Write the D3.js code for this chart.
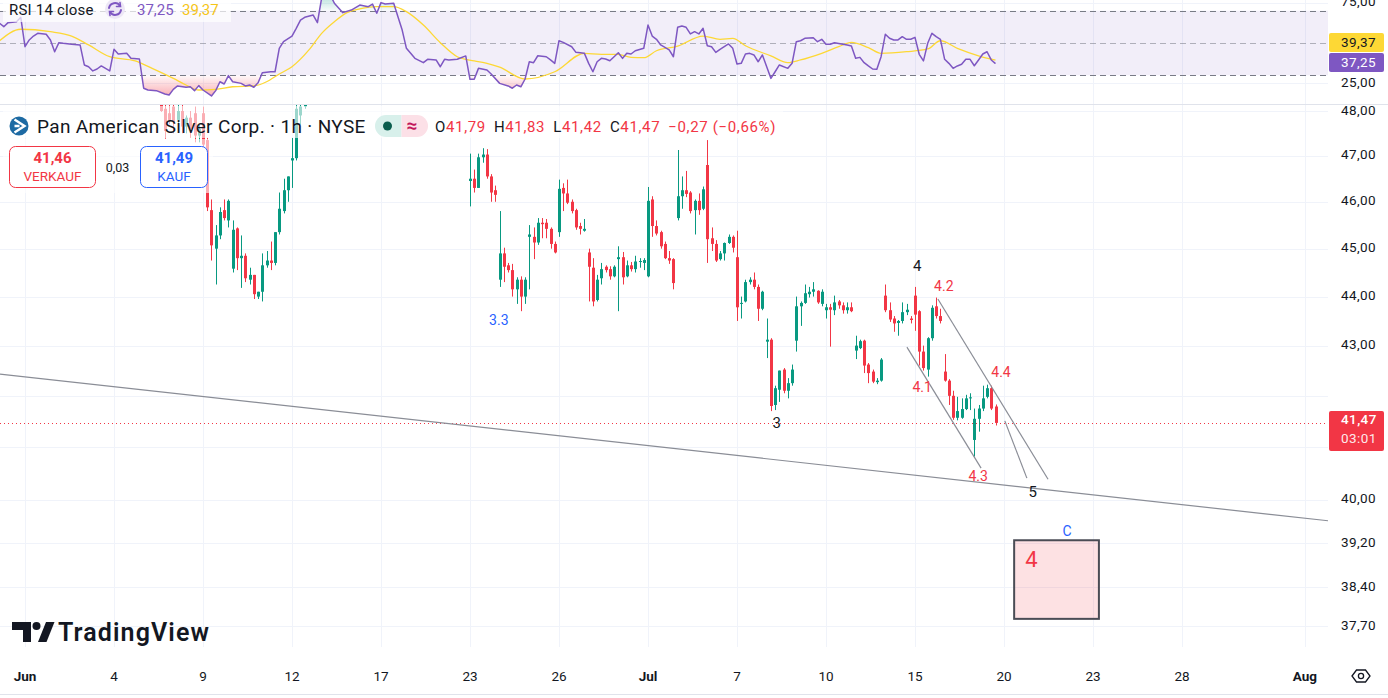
<!DOCTYPE html>
<html>
<head>
<meta charset="utf-8">
<title>PAAS 1h</title>
<script src="https://d3js.org/d3.v7.min.js"></script>
<style>
  body { margin: 0; background: #fff; }
  svg { display: block; font-family: Roboto, "Noto Sans", sans-serif; }
</style>
</head>
<body>
<div class="chart"></div>
<script>
// bar, open, high, low, close (1h bars, bar 0 = first "Jun" tick)
const candles = [
  [32,48.15,48.25,47.98,48.00],[33,48.05,48.25,47.38,47.55],[34,47.95,48.25,47.70,47.80],
  [35,48.10,48.25,47.50,47.75],[36,47.80,48.25,47.70,48.00],[37,48.00,48.25,47.50,47.65],
  [38,47.65,47.90,47.50,47.85],[39,47.85,48.00,47.40,47.60],[40,47.95,48.10,47.30,47.45],
  [41,47.45,47.70,47.30,47.60],[42,47.95,48.10,47.05,47.25],[43,47.35,47.40,45.80,45.88],
  [44,45.82,46.05,44.75,45.07],[45,45.00,45.50,44.25,45.28],[46,45.28,45.88,45.20,45.78],
  [47,45.82,46.05,45.60,45.65],[48,45.60,46.05,45.45,46.02],[49,44.58,45.60,44.50,45.40],
  [50,45.43,45.45,44.55,44.80],[51,44.80,45.28,44.18,44.85],[52,44.85,44.90,44.30,44.38],
  [53,44.35,44.60,44.25,44.45],[54,44.45,44.45,43.95,44.05],[55,44.00,44.10,43.95,44.10],
  [56,44.10,44.90,43.90,44.65],[57,44.65,44.95,44.60,44.75],[58,44.75,45.15,44.55,44.70],
  [59,44.70,45.35,44.65,45.35],[60,45.35,46.20,45.30,45.85],[61,45.80,46.50,45.75,46.25],
  [62,46.25,46.55,46.00,46.55],[63,46.90,47.40,46.30,46.95],[64,46.95,48.25,46.90,48.05],
  [65,47.90,48.25,47.70,48.10],[66,48.10,48.30,48.05,48.20],[69,48.20,48.30,48.14,48.15],
  [105,46.45,47.05,45.90,46.50],[106,46.50,46.70,46.20,46.30],[107,46.30,47.05,46.30,46.97],
  [108,46.97,47.17,46.85,47.03],[109,47.03,47.15,46.50,46.55],[110,46.55,46.60,46.00,46.20],
  [111,46.25,46.35,46.00,46.15],[112,44.35,45.80,44.20,44.90],[113,44.90,45.02,44.30,44.62],
  [114,44.65,44.70,44.50,44.55],[115,44.55,44.68,44.00,44.15],[116,44.15,44.40,43.85,44.35],
  [117,44.35,44.42,43.70,44.00],[118,44.00,44.40,43.85,44.35],[119,45.25,45.50,44.15,45.30],
  [120,45.25,45.45,44.78,45.13],[121,45.13,45.65,45.08,45.55],[122,45.55,45.65,45.22,45.52],
  [123,45.55,45.63,45.22,45.42],[124,45.42,45.45,45.00,45.10],[125,45.10,45.15,44.90,44.92],
  [126,45.35,46.48,45.25,46.28],[127,46.30,46.40,45.80,46.18],[128,46.18,46.48,45.95,45.98],
  [129,46.00,46.05,45.75,45.80],[130,45.82,45.85,45.40,45.45],[131,45.48,45.55,45.30,45.42],
  [132,45.38,45.63,45.36,45.42],[133,44.92,45.00,43.90,44.62],[134,44.60,44.80,43.80,43.90],
  [135,43.93,44.45,43.90,44.35],[136,44.38,44.70,44.25,44.57],[137,44.62,44.65,44.50,44.55],
  [138,44.57,44.63,44.35,44.42],[139,44.42,44.65,44.40,44.62],[140,44.78,45.05,43.70,44.82],
  [141,44.82,44.93,44.25,44.40],[142,44.42,44.75,44.40,44.65],[143,44.65,44.72,44.52,44.57],
  [144,44.57,44.85,44.50,44.73],[145,44.72,44.80,44.60,44.74],[146,44.70,44.80,44.55,44.76],
  [147,44.42,46.32,44.40,46.02],[148,46.05,46.12,45.25,45.48],[149,45.48,45.60,45.28,45.32],
  [150,45.35,45.38,45.00,45.05],[151,45.10,45.15,44.78,44.80],[152,44.80,44.95,44.68,44.75],
  [153,44.78,44.80,44.15,44.28],[154,45.65,47.13,45.60,46.12],[155,46.12,46.55,45.85,46.25],
  [156,46.25,46.67,46.10,46.17],[157,46.20,46.23,45.75,45.80],[158,45.82,46.05,45.30,46.02],
  [159,46.02,46.18,45.72,45.82],[160,45.85,46.33,45.82,46.27],[161,46.80,47.35,44.70,45.20],
  [162,45.22,45.45,44.95,45.10],[163,45.10,45.18,44.72,44.75],[164,44.78,44.95,44.75,44.90],
  [165,44.90,45.13,44.75,45.12],[166,45.12,45.30,45.10,45.25],[167,45.25,45.28,44.92,45.02],
  [168,44.82,45.38,43.50,43.78],[169,43.85,44.00,43.55,43.87],[170,43.90,44.35,43.88,44.30],
  [171,44.30,44.40,44.25,44.35],[172,44.35,44.50,44.15,44.20],[173,44.20,44.25,43.50,43.75],
  [174,43.75,44.12,43.72,44.10],[175,43.08,43.55,42.75,43.12],[176,43.12,43.15,41.70,41.80],
  [177,41.82,42.20,41.72,42.15],[178,42.12,42.50,41.88,42.50],[179,42.52,42.55,42.05,42.10],
  [180,42.10,42.35,41.95,42.25],[181,42.25,42.62,42.20,42.52],[182,43.10,44.00,42.88,43.80],
  [183,43.80,43.90,43.40,43.87],[184,43.87,44.25,43.85,44.07],[185,44.05,44.20,43.98,44.10],
  [186,44.10,44.30,44.00,44.15],[187,44.12,44.13,43.85,43.88],[188,43.85,44.15,43.80,44.10],
  [189,43.72,43.85,43.55,43.78],[190,43.78,43.85,42.98,43.73],[191,43.72,44.02,43.62,43.88],
  [192,43.90,43.93,43.75,43.82],[193,43.82,43.88,43.65,43.72],[194,43.72,43.88,43.65,43.78],
  [195,43.78,43.88,43.68,43.70],[196,42.90,43.20,42.73,43.00],[197,42.95,43.12,42.93,43.09],
  [198,43.10,43.12,42.45,42.60],[199,42.62,42.65,42.25,42.45],[200,42.48,42.52,42.25,42.28],
  [201,42.27,42.35,42.23,42.30],[202,42.30,42.75,42.28,42.72],[203,44.02,44.25,43.68,43.72],
  [204,43.72,43.88,43.48,43.53],[205,43.55,43.60,43.28,43.45],[206,43.46,43.52,43.20,43.50],
  [207,43.50,43.88,43.45,43.68],[208,43.68,43.85,43.62,43.73],[209,43.55,43.60,43.45,43.52],
  [210,44.02,44.20,43.30,43.63],[211,43.70,43.72,42.60,42.88],[212,42.88,43.00,42.50,42.55],
  [213,42.52,43.17,42.38,43.15],[214,43.15,43.82,43.10,43.77],[215,43.80,43.98,43.55,43.60],
  [216,43.60,43.75,43.45,43.50],[217,42.48,42.83,42.28,42.30],[218,42.30,42.33,41.82,42.00],
  [219,42.00,42.10,41.53,41.57],[220,41.57,41.98,41.52,41.70],[221,41.57,41.95,41.55,41.74],
  [222,41.74,42.02,41.72,41.95],[223,41.95,42.05,41.72,41.97],[224,41.14,41.75,40.82,41.55],
  [225,41.55,41.82,41.30,41.75],[226,41.75,42.20,41.70,41.95],[227,41.98,42.22,41.95,42.15],
  [228,42.15,42.20,41.72,41.75],[229,41.79,41.83,41.42,41.47]
];

// RSI 14 close: bar, value
const rsiLine = [
  [-6,62.2],[-5,60.1],[-4,62.6],[-2,63.2],[-1,65.9],[0,47.7],[1,51.9],[2,54.3],[3,56.0],[5,55.4],
  [6,51.9],[7,44.6],[8,50.2],[9,49.8],[11,49.2],[13,48.8],[14,36.4],[15,35.3],[16,32.7],[17,33.9],
  [18,35.8],[20,32.7],[21,46.1],[22,43.2],[24,43.6],[25,40.5],[27,40.1],[28,22.0],[29,20.9],[31,20.5],
  [33,18.4],[34,17.8],[35,21.3],[36,23.4],[38,22.6],[39,22.9],[40,20.5],[41,23.6],[42,20.9],[44,17.2],
  [45,20.5],[46,26.0],[47,24.6],[48,29.8],[49,26.0],[51,25.0],[52,23.4],[53,24.0],[54,22.6],[55,25.4],
  [56,31.6],[58,32.2],[59,32.2],[60,46.7],[61,50.8],[63,54.3],[64,59.1],[65,64.2],[66,65.9],[68,67.3],
  [69,62.6],[70,77.9],[72,80.0],[73,74.6],[75,68.8],[77,70.4],[79,73.5],[81,72.5],[82,74.1],[83,68.4],
  [84,75.0],[85,74.1],[87,74.6],[88,66.3],[89,58.0],[90,46.7],[92,40.5],[94,37.8],[95,39.9],[97,39.5],
  [98,35.3],[99,39.9],[100,39.5],[102,39.9],[104,42.0],[105,27.5],[106,27.5],[107,34.3],[109,33.3],[110,30.8],
  [112,25.0],[114,23.4],[115,22.0],[116,24.0],[117,22.9],[118,27.7],[119,38.4],[120,37.8],[121,42.1],[123,41.5],
  [124,39.5],[125,37.4],[126,51.4],[127,50.4],[129,47.7],[130,44.2],[132,43.6],[133,37.4],[134,32.2],[135,38.4],
  [136,40.5],[137,40.1],[138,39.0],[140,44.0],[141,40.5],[142,43.6],[143,43.2],[144,45.2],[146,46.7],[147,61.1],
  [148,54.3],[149,52.3],[150,48.8],[152,45.7],[153,41.5],[154,59.7],[155,60.5],[156,59.7],[157,55.6],[158,57.0],
  [159,55.6],[160,59.1],[161,48.3],[162,47.7],[163,44.2],[164,46.1],[166,49.4],[167,46.7],[168,37.0],[169,37.4],
  [170,43.2],[171,43.6],[172,42.6],[173,38.4],[174,42.6],[176,28.1],[177,32.2],[178,36.4],[180,34.3],[181,37.4],
  [182,50.8],[183,51.4],[184,52.9],[186,53.3],[187,50.8],[188,52.3],[189,49.2],[190,49.2],[191,50.2],[193,49.2],
  [194,48.8],[195,48.2],[196,40.5],[197,41.1],[198,37.8],[199,35.8],[200,33.9],[201,33.7],[202,41.5],[203,55.4],
  [204,52.9],[205,51.9],[206,51.9],[207,53.9],[208,52.3],[209,52.3],[210,53.5],[211,43.0],[212,38.9],[213,49.8],
  [214,56.0],[215,53.9],[216,52.3],[217,39.9],[218,37.4],[219,34.3],[220,35.8],[221,36.8],[222,39.9],[223,39.9],
  [224,35.9],[225,39.5],[226,43.2],[227,44.6],[228,39.5],[229,37.25]
];

// RSI-based moving average: bar, value
const rsiMa = [
  [-6,51.4],[-1,58.5],[6,57.0],[11,54.3],[15,48.8],[20,41.5],[26,38.9],[30,34.3],[35,28.1],[38,24.0],
  [41,20.9],[45,21.3],[49,22.9],[54,23.4],[57,26.0],[60,30.8],[63,35.3],[67,45.7],[70,56.0],[73,63.2],
  [76,68.8],[79,71.1],[83,72.5],[87,72.5],[90,69.4],[94,61.1],[98,50.2],[102,41.5],[106,38.9],[109,37.4],
  [112,35.0],[118,27.7],[125,32.2],[132,43.6],[136,43.0],[140,43.0],[143,41.1],[146,40.9],[149,45.2],[154,48.1],
  [160,54.3],[164,52.3],[167,52.9],[170,48.3],[176,42.0],[180,37.8],[183,39.5],[188,43.6],[192,47.7],[195,50.4],
  [199,47.1],[202,43.6],[208,44.6],[213,46.3],[216,51.4],[220,46.7],[225,42.1],[229,39.37]
];

const priceTicks = [48, 47, 46, 45, 44, 43, 42, 41, 40, 39.2, 38.4, 37.7];
const rsiTicks = [75, 25];
const rsiLevels = [70, 50, 30];
const timeTicks = [[0,"Jun"],[21,"4"],[42,"9"],[63,"12"],[84,"17"],[105,"23"],[126,"26"],
  [147,"Jul"],[168,"7"],[189,"10"],[210,"15"],[231,"20"],[252,"23"],[273,"28"],[302,"Aug"]];

// wave count labels: bar, price, text, degree
const waveLabels = [
  [210.5,44.61,"4","main"],[216.8,44.20,"4.2","sub"],[230.3,42.45,"4.4","sub"],
  [211.7,42.15,"4.1","sub"],[224.9,40.43,"4.3","sub"],[177.4,41.45,"3","main"],
  [111.8,43.50,"3.3","minor"],[237.8,40.13,"5","main"],[245.9,39.40,"C","minor"]
];
// drawn trend lines: [bar, price] pairs
const trendLines = [
  [[-5.9,42.43],[307.5,39.61]],
  [[208.1,42.97],[225.6,40.60]],
  [[215.4,43.95],[241.4,40.39]],
  [[231.2,41.51],[236.4,40.41]]
];
const targetBars = [233.4, 253.4];
const targetPrices = [39.25, 37.83];
const targetText = "4";

const lastOpen = 41.79, lastHigh = 41.83, lastLow = 41.42, lastClose = 41.47;
const lastChange = -0.27, lastPct = -0.66;
const bidPrice = 41.46, askPrice = 41.49, spread = 0.03;
const countdown = "03:01";
const rsiLast = 37.25, rsiMaLast = 39.37;

const width = 1388, height = 698;
const plotRight = 1328;
const rsiBottom = 104, mainTop = 105, mainBottom = 655;
const green = "#089981", red = "#f23645", blue = "#2962ff", ink = "#131722";
const purple = "#7e57c2", yellow = "#fdd835", grid = "#f0f3fa";

const fmt = v => d3.format(".2f")(Math.abs(v)).replace(".", ",");
const sfmt = v => (v < 0 ? "\u2212" : "+") + fmt(v);

const x = d3.scaleLinear().domain([0, 300]).range([25, 25 + 300 * 4.238]);
const y = d3.scaleLog().domain([48, 37.7]).range([111, 626.2]);
const yr = d3.scaleLinear().domain([30, 70]).range([75.3, 10.7]);

const svg = d3.select(".chart").append("svg")
  .attr("width", width).attr("height", height);
const defs = svg.append("defs");

defs.append("clipPath").attr("id", "mainClip").append("rect")
  .attr("x", 0).attr("y", mainTop).attr("width", plotRight).attr("height", mainBottom - mainTop);
defs.append("clipPath").attr("id", "rsiClip").append("rect")
  .attr("x", 0).attr("y", 0).attr("width", plotRight).attr("height", rsiBottom);
defs.append("clipPath").attr("id", "lowClip").append("rect")
  .attr("x", 0).attr("y", yr(30)).attr("width", plotRight).attr("height", rsiBottom - yr(30));
defs.append("clipPath").attr("id", "highClip").append("rect")
  .attr("x", 0).attr("y", 0).attr("width", plotRight).attr("height", yr(70));

let gLow = defs.append("linearGradient").attr("id", "lowGrad")
  .attr("gradientUnits", "userSpaceOnUse").attr("x1", 0).attr("x2", 0)
  .attr("y1", yr(30)).attr("y2", yr(10));
gLow.append("stop").attr("offset", 0).attr("stop-color", red).attr("stop-opacity", 0.03);
gLow.append("stop").attr("offset", 1).attr("stop-color", red).attr("stop-opacity", 0.6);
let gHigh = defs.append("linearGradient").attr("id", "highGrad")
  .attr("gradientUnits", "userSpaceOnUse").attr("x1", 0).attr("x2", 0)
  .attr("y1", yr(70)).attr("y2", yr(90));
gHigh.append("stop").attr("offset", 0).attr("stop-color", green).attr("stop-opacity", 0.03);
gHigh.append("stop").attr("offset", 1).attr("stop-color", green).attr("stop-opacity", 0.6);

// grid
svg.append("g").selectAll("line").data(timeTicks).join("line")
  .attr("x1", d => Math.round(x(d[0])) + 0.5).attr("x2", d => Math.round(x(d[0])) + 0.5)
  .attr("y1", 0).attr("y2", 647).attr("stroke", grid);
svg.append("g").selectAll("line").data(priceTicks).join("line")
  .attr("x1", 0).attr("x2", plotRight)
  .attr("y1", d => Math.round(y(d)) + 0.5).attr("y2", d => Math.round(y(d)) + 0.5)
  .attr("stroke", grid);
svg.append("g").selectAll("line").data(rsiTicks).join("line")
  .attr("x1", 0).attr("x2", plotRight)
  .attr("y1", d => Math.round(yr(d)) + 0.5).attr("y2", d => Math.round(yr(d)) + 0.5)
  .attr("stroke", grid);

// ---- RSI pane
const rsiG = svg.append("g").attr("clip-path", "url(#rsiClip)");
rsiG.append("rect").attr("x", 0).attr("width", plotRight)
  .attr("y", yr(70)).attr("height", yr(30) - yr(70))
  .attr("fill", purple).attr("fill-opacity", 0.1);

rsiG.append("path").datum(rsiLine)
  .attr("clip-path", "url(#lowClip)")
  .attr("fill", "url(#lowGrad)")
  .attr("d", d3.area().x(d => x(d[0])).y0(yr(30)).y1(d => yr(d[1])));
rsiG.append("path").datum(rsiLine)
  .attr("clip-path", "url(#highClip)")
  .attr("fill", "url(#highGrad)")
  .attr("d", d3.area().x(d => x(d[0])).y0(yr(70)).y1(d => yr(d[1])));

rsiG.selectAll(".lvl").data(rsiLevels).join("line")
  .attr("x1", 0).attr("x2", plotRight)
  .attr("y1", d => Math.round(yr(d)) + 0.5).attr("y2", d => Math.round(yr(d)) + 0.5)
  .attr("stroke", "#787b86").attr("stroke-opacity", d => d === 50 ? 0.55 : 1)
  .attr("stroke-dasharray", "6,4");

rsiG.append("path").datum(rsiMa)
  .attr("fill", "none").attr("stroke", yellow).attr("stroke-width", 1.3)
  .attr("d", d3.line().x(d => x(d[0])).y(d => yr(d[1])).curve(d3.curveMonotoneX));
rsiG.append("path").datum(rsiLine)
  .attr("fill", "none").attr("stroke", purple).attr("stroke-width", 1.5)
  .attr("stroke-linejoin", "round")
  .attr("d", d3.line().x(d => x(d[0])).y(d => yr(d[1])));

svg.append("line").attr("x1", 0).attr("x2", width)
  .attr("y1", rsiBottom + 0.5).attr("y2", rsiBottom + 0.5).attr("stroke", "#e0e3eb");

// ---- main pane
const mainG = svg.append("g").attr("clip-path", "url(#mainClip)");

mainG.append("line").attr("x1", 0).attr("x2", plotRight)
  .attr("y1", Math.round(y(lastClose)) + 0.5).attr("y2", Math.round(y(lastClose)) + 0.5)
  .attr("stroke", red).attr("stroke-dasharray", "1,3");

const bodyW = 3;
const cg = mainG.append("g").selectAll("g").data(candles).join("g")
  .attr("fill", d => d[4] >= d[1] ? green : red)
  .attr("stroke", d => d[4] >= d[1] ? green : red);
cg.append("line")
  .attr("x1", d => Math.round(x(d[0])) + 0.5).attr("x2", d => Math.round(x(d[0])) + 0.5)
  .attr("y1", d => y(d[2])).attr("y2", d => y(d[3]));
cg.append("rect")
  .attr("stroke", "none")
  .attr("x", d => Math.round(x(d[0])) - 1)
  .attr("width", bodyW)
  .attr("y", d => y(Math.max(d[1], d[4])))
  .attr("height", d => Math.max(1, y(Math.min(d[1], d[4])) - y(Math.max(d[1], d[4]))));

mainG.selectAll(".trend").data(trendLines).join("line")
  .attr("x1", d => x(d[0][0])).attr("y1", d => y(d[0][1]))
  .attr("x2", d => x(d[1][0])).attr("y2", d => y(d[1][1]))
  .attr("stroke", "#8a8d96").attr("stroke-width", 1.2);

mainG.append("rect")
  .attr("x", x(targetBars[0])).attr("width", x(targetBars[1]) - x(targetBars[0]))
  .attr("y", y(targetPrices[0])).attr("height", y(targetPrices[1]) - y(targetPrices[0]))
  .attr("fill", red).attr("fill-opacity", 0.15)
  .attr("stroke", "#4a4c55").attr("stroke-width", 2);
mainG.append("text")
  .attr("x", x(targetBars[0]) + 11).attr("y", y(targetPrices[0]) + 21)
  .attr("dominant-baseline", "middle").attr("fill", red).attr("font-size", 22)
  .text(targetText);

const waveColor = { main: ink, sub: red, minor: blue };
mainG.selectAll(".wave").data(waveLabels).join("text")
  .attr("x", d => x(d[0])).attr("y", d => y(d[1]))
  .attr("text-anchor", "middle").attr("dominant-baseline", "middle")
  .attr("font-size", d => d[3] === "main" ? 15 : 14)
  .attr("fill", d => waveColor[d[3]])
  .text(d => d[2]);

// ---- legend overlays
svg.append("rect").attr("x", 3).attr("y", 106).attr("width", 780).attr("height", 32)
  .attr("fill", "#fff").attr("fill-opacity", 0.6);
svg.append("rect").attr("x", 3).attr("y", 139).attr("width", 210).attr("height", 54)
  .attr("fill", "#fff").attr("fill-opacity", 0.6);
svg.append("rect").attr("x", 3).attr("y", 0).attr("width", 228).attr("height", 22)
  .attr("fill", "#fff").attr("fill-opacity", 0.7);

// RSI legend
svg.append("text").attr("x", 9).attr("y", 15).attr("font-size", 15).attr("fill", ink)
  .attr("letter-spacing", 0.2).text("RSI 14 close");
svg.append("circle").attr("cx", 115).attr("cy", 9).attr("r", 10).attr("fill", "#ede7f6");
const ico = svg.append("g").attr("fill", "none").attr("stroke", purple).attr("stroke-width", 2)
  .attr("stroke-linecap", "round");
ico.append("path").attr("d", "M109,8 A6,6 0 0 1 120,6");
ico.append("path").attr("d", "M121,10 A6,6 0 0 1 110,12");
ico.append("path").attr("d", "M120,2.5 L120.5,6.5 L116.5,6.5").attr("stroke-width", 1.6);
ico.append("path").attr("d", "M110,15.5 L109.5,11.5 L113.5,11.5").attr("stroke-width", 1.6);
svg.append("text").attr("x", 137).attr("y", 15).attr("font-size", 15).attr("fill", purple)
  .text(fmt(rsiLast));
svg.append("text").attr("x", 182).attr("y", 15).attr("font-size", 15).attr("fill", "#f5c518")
  .text(fmt(rsiMaLast));

// symbol legend
svg.append("circle").attr("cx", 19).attr("cy", 126).attr("r", 9.5).attr("fill", "#1d6aa3");
svg.append("path").attr("d", "M14.5,119.5 L24.5,126 L14.5,132.5 M14.5,126 L19.5,126")
  .attr("fill", "none").attr("stroke", "#fff").attr("stroke-width", 2.4);
svg.append("text").attr("x", 37).attr("y", 133).attr("font-size", 19).attr("fill", ink)
  .attr("letter-spacing", 0.35)
  .text("Pan American Silver Corp. \u00b7 1h \u00b7 NYSE");

svg.append("path").attr("d", "M386,115 H401.5 V137 H386 A11,11 0 0 1 386,115 Z").attr("fill", "#d8f0eb");
svg.append("path").attr("d", "M401.5,115 H417 A11,11 0 0 1 417,137 H401.5 Z").attr("fill", "#fce0e7");
svg.append("circle").attr("cx", 387.5).attr("cy", 126).attr("r", 4.5).attr("fill", "#0b5e4e");
svg.append("text").attr("x", 412).attr("y", 132).attr("text-anchor", "middle")
  .attr("font-size", 19).attr("font-weight", 700).attr("fill", "#c2185b").text("\u2248");

const ohlc = svg.append("text").attr("x", 435).attr("y", 131.5).attr("font-size", 15)
  .attr("letter-spacing", 0.65);
[["O", lastOpen], ["H", lastHigh], ["L", lastLow], ["C", lastClose]].forEach((p, i) => {
  ohlc.append("tspan").attr("fill", ink).attr("dx", i ? 8 : 0).text(p[0]);
  ohlc.append("tspan").attr("fill", red).text(fmt(p[1]));
});
ohlc.append("tspan").attr("fill", red).attr("dx", 8)
  .text(sfmt(lastChange) + " (" + sfmt(lastPct) + "%)");

// bid / ask buttons
svg.append("rect").attr("x", 9.5).attr("y", 146.5).attr("width", 86).attr("height", 41).attr("rx", 6)
  .attr("fill", "#fff").attr("stroke", red);
svg.append("text").attr("x", 52.5).attr("y", 163).attr("text-anchor", "middle")
  .attr("font-size", 15).attr("font-weight", 700).attr("fill", red).text(fmt(bidPrice));
svg.append("text").attr("x", 52.5).attr("y", 181).attr("text-anchor", "middle")
  .attr("font-size", 13.5).attr("fill", red).text("VERKAUF");
svg.append("text").attr("x", 117.5).attr("y", 171.5).attr("text-anchor", "middle")
  .attr("font-size", 12.5).attr("fill", ink).text(fmt(spread));
svg.append("rect").attr("x", 140.5).attr("y", 146.5).attr("width", 67).attr("height", 41).attr("rx", 6)
  .attr("fill", "#fff").attr("stroke", blue);
svg.append("text").attr("x", 174).attr("y", 163).attr("text-anchor", "middle")
  .attr("font-size", 15).attr("font-weight", 700).attr("fill", blue).text(fmt(askPrice));
svg.append("text").attr("x", 174).attr("y", 181).attr("text-anchor", "middle")
  .attr("font-size", 13.5).attr("fill", blue).text("KAUF");

// ---- price axis (the 41 level sits under the live price label)
const py = y(lastClose);
svg.append("g").selectAll("text")
  .data(priceTicks.filter(d => Math.abs(y(d) - py) > 30)).join("text")
  .attr("x", 1341).attr("y", d => y(d)).attr("dominant-baseline", "middle")
  .attr("font-size", 13.5).attr("letter-spacing", 0.4).attr("fill", ink).text(fmt);
svg.append("g").selectAll("text").data(rsiTicks).join("text")
  .attr("x", 1341).attr("y", d => yr(d)).attr("dominant-baseline", "middle")
  .attr("font-size", 13.5).attr("letter-spacing", 0.4).attr("fill", ink).text(fmt);

svg.append("rect").attr("x", 1329).attr("y", 33).attr("width", 55).attr("height", 19)
  .attr("rx", 2).attr("fill", yellow);
svg.append("text").attr("x", 1341).attr("y", 43).attr("dominant-baseline", "middle")
  .attr("font-size", 13.5).attr("letter-spacing", 0.4).attr("fill", ink).text(fmt(rsiMaLast));
svg.append("rect").attr("x", 1329).attr("y", 53).attr("width", 55).attr("height", 19)
  .attr("rx", 2).attr("fill", purple);
svg.append("text").attr("x", 1341).attr("y", 63).attr("dominant-baseline", "middle")
  .attr("font-size", 13.5).attr("letter-spacing", 0.4).attr("fill", "#fff").text(fmt(rsiLast));

svg.append("rect").attr("x", 1329).attr("y", py - 12).attr("width", 55).attr("height", 40)
  .attr("rx", 2).attr("fill", red);
svg.append("text").attr("x", 1341).attr("y", py - 2).attr("dominant-baseline", "middle")
  .attr("font-size", 13.5).attr("letter-spacing", 0.4).attr("font-weight", 500).attr("fill", "#fff")
  .text(fmt(lastClose));
svg.append("text").attr("x", 1341).attr("y", py + 17).attr("dominant-baseline", "middle")
  .attr("font-size", 13.5).attr("letter-spacing", 0.4).attr("fill", "#fff").attr("fill-opacity", 0.9)
  .text(countdown);

// ---- time axis
svg.append("g").selectAll("text").data(timeTicks).join("text")
  .attr("x", d => x(d[0])).attr("y", 681).attr("text-anchor", "middle")
  .attr("font-size", 13.5).attr("fill", ink)
  .attr("font-weight", d => isNaN(+d[1]) ? 700 : 400)
  .text(d => d[1]);
svg.append("line").attr("x1", 0).attr("x2", width).attr("y1", 694.5).attr("y2", 694.5)
  .attr("stroke", "#e0e3eb");

// settings eye icon
svg.append("path").attr("d", "M1352,676 L1356.5,670 H1365.5 L1370,676 L1365.5,682 H1356.5 Z")
  .attr("fill", "none").attr("stroke", ink).attr("stroke-width", 1.3);
svg.append("circle").attr("cx", 1361).attr("cy", 676).attr("r", 2.6)
  .attr("fill", "none").attr("stroke", ink).attr("stroke-width", 1.3);

// TradingView watermark
const logo = svg.append("g").attr("fill", ink);
logo.append("path").attr("d", "M12,622 H31 V642 H23 V630 H12 Z");
logo.append("circle").attr("cx", 36.5).attr("cy", 626).attr("r", 4);
logo.append("path").attr("d", "M38,642 L46,622 H54.5 L46.5,642 Z");
logo.append("text").attr("x", 58).attr("y", 641).attr("font-size", 25).attr("font-weight", 600)
  .attr("letter-spacing", 1.1).text("TradingView");
</script>
</body>
</html>
